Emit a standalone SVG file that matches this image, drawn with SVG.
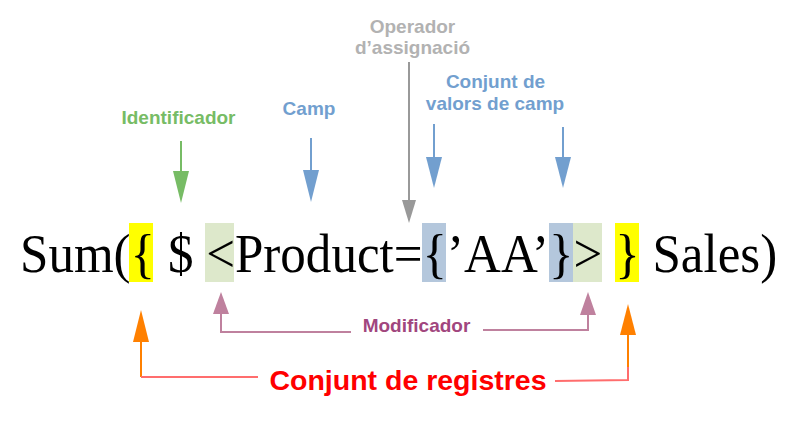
<svg xmlns="http://www.w3.org/2000/svg" width="801" height="424" viewBox="0 0 801 424">
<style>
.lbl{font-family:"Liberation Sans",Arial,sans-serif;font-weight:bold;font-size:19px;text-anchor:middle}
.main{font-family:"Liberation Serif","Times New Roman",serif;font-size:55.5px;fill:#000}
.ln{fill:none;stroke-width:2}
</style>
<rect width="801" height="424" fill="#fff"/>
<g id="highlights">
<rect x="129" y="223" width="24" height="59" fill="#ffff00"/>
<rect x="205" y="223" width="29" height="59" fill="#dde8cb"/>
<rect x="422" y="223" width="24" height="59" fill="#b4c7dc"/>
<rect x="549" y="223" width="24" height="59" fill="#b4c7dc"/>
<rect x="573" y="223" width="29" height="59" fill="#dde8cb"/>
<rect x="615" y="223" width="24" height="59" fill="#ffff00"/>
</g>
<g id="expression">
<text class="main" transform="translate(20 272) scale(0.92 1)">Sum({ $ &lt;Product={’AA’}&gt; } Sales)</text>
</g>
<g id="connectors">
<line class="ln" x1="181" y1="141" x2="181" y2="174" stroke="#77bc65"/>
<polygon points="173,171 189,171 181,203" fill="#77bc65"/>
<line class="ln" x1="311" y1="138" x2="311" y2="172" stroke="#729fcf"/>
<polygon points="303,170 319,170 311,202" fill="#729fcf"/>
<line class="ln" x1="409" y1="62" x2="409" y2="203" stroke="#999999"/>
<polygon points="402,200 416,200 409,223" fill="#999999"/>
<line class="ln" x1="434" y1="124" x2="434" y2="160" stroke="#729fcf"/>
<polygon points="426,157 442,157 434,188" fill="#729fcf"/>
<line class="ln" x1="563" y1="127" x2="563" y2="160" stroke="#729fcf"/>
<polygon points="555,157 571,157 563,188" fill="#729fcf"/>
<polyline class="ln" points="221,312 221,332 351,332" stroke="#bf819e"/>
<polygon points="213,314 229,314 221,292" fill="#bf819e"/>
<polyline class="ln" points="483,330 588,330 588,313" stroke="#bf819e"/>
<polygon points="580,315 596,315 588,292" fill="#bf819e"/>
<line class="ln" x1="141" y1="340" x2="141" y2="377" stroke="#ff8000"/>
<line class="ln" x1="141" y1="377" x2="258" y2="377" stroke="#ff6d6d"/>
<polygon points="133,342 149,342 141,310" fill="#ff8000"/>
<line class="ln" x1="628" y1="333" x2="628" y2="367" stroke="#ff8000"/>
<polyline class="ln" points="628,367 628,380 555,381" stroke="#ff6d6d"/>
<polygon points="620,335 636,335 628,304" fill="#ff8000"/>
</g>
<g id="identificador"><text class="lbl" x="178.5" y="124" fill="#77bc65">Identificador</text></g>
<g id="camp"><text class="lbl" x="309" y="115" fill="#729fcf">Camp</text></g>
<g id="operador"><text class="lbl" x="412.5" y="33" fill="#b2b2b2">Operador</text><text class="lbl" x="412.5" y="54" fill="#b2b2b2">d’assignació</text></g>
<g id="valors"><text class="lbl" x="495.5" y="88" fill="#729fcf">Conjunt de</text><text class="lbl" x="495" y="110" fill="#729fcf">valors de camp</text></g>
<g id="modificador"><text class="lbl" x="416.5" y="332" fill="#a1467e">Modificador</text></g>
<g id="registres"><text class="lbl" x="408" y="390" fill="#ff0000" style="font-size:28.5px">Conjunt de registres</text></g>
</svg>
